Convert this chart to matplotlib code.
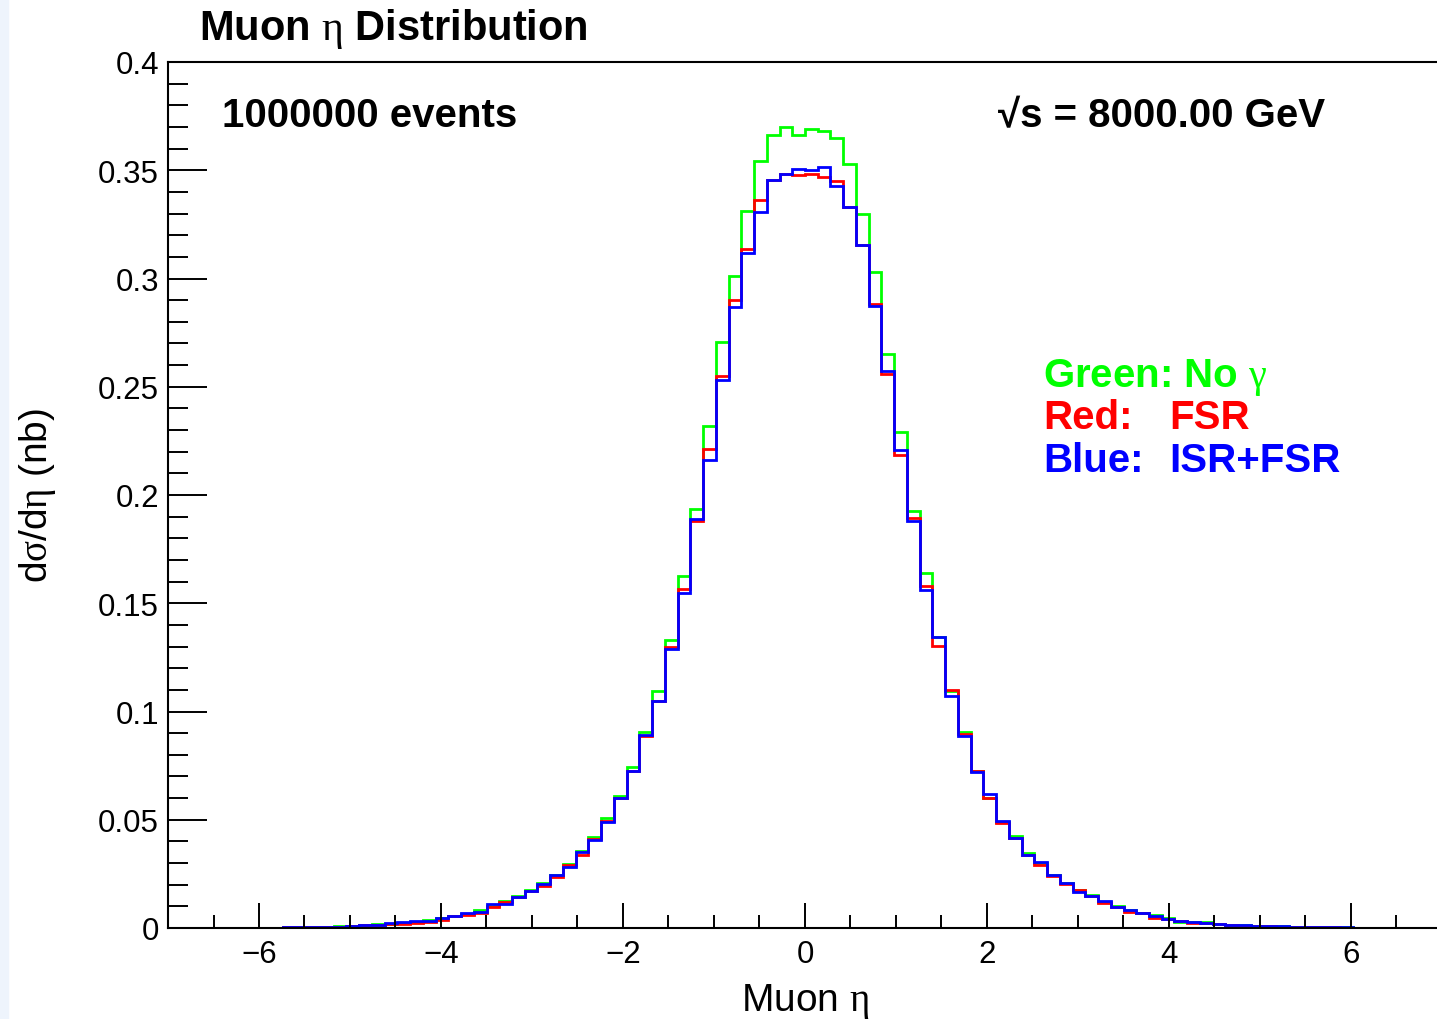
import numpy as np
import matplotlib
matplotlib.use("Agg")
import matplotlib.pyplot as plt
from matplotlib.patches import Rectangle
from matplotlib.ticker import MultipleLocator, FuncFormatter

plt.rcParams['font.family'] = ['Liberation Sans', 'DejaVu Sans']
plt.rcParams['mathtext.fontset'] = 'custom'
plt.rcParams['mathtext.rm'] = 'Liberation Serif'
plt.rcParams['mathtext.it'] = 'Liberation Serif'
plt.rcParams['mathtext.bf'] = 'Liberation Sans:bold'

# histogram binning: 100 bins from -7 to 7
eta_min, eta_max, n_bins = -7.0, 7.0, 100

# dsigma/deta per bin (nb)
green_nogamma = [
    0.0000, 0.0000, 0.0001, 0.0001, 0.0001, 0.0001, 0.0002, 0.0002, 0.0002, 0.0003,
    0.0003, 0.0004, 0.0005, 0.0007, 0.0009, 0.0012, 0.0018, 0.0019, 0.0025, 0.0028,
    0.0038, 0.0046, 0.0057, 0.0066, 0.0085, 0.0100, 0.0123, 0.0146, 0.0175, 0.0206,
    0.0247, 0.0295, 0.0355, 0.0419, 0.0507, 0.0611, 0.0743, 0.0904, 0.1095, 0.1332,
    0.1624, 0.1936, 0.2321, 0.2709, 0.3011, 0.3312, 0.3541, 0.3665, 0.3700, 0.3665,
    0.3689, 0.3681, 0.3651, 0.3527, 0.3296, 0.3030, 0.2652, 0.2293, 0.1925, 0.1639,
    0.1345, 0.1095, 0.0907, 0.0727, 0.0599, 0.0490, 0.0427, 0.0347, 0.0300, 0.0245,
    0.0208, 0.0175, 0.0152, 0.0122, 0.0103, 0.0083, 0.0070, 0.0062, 0.0045, 0.0030,
    0.0027, 0.0029, 0.0019, 0.0015, 0.0012, 0.0010, 0.0008, 0.0007, 0.0006, 0.0005,
    0.0004, 0.0003, 0.0003, 0.0002, 0.0002, 0.0001, 0.0001, 0.0001, 0.0000, 0.0000,
]
red_fsr = [
    0.0000, 0.0000, 0.0001, 0.0001, 0.0001, 0.0001, 0.0001, 0.0002, 0.0002, 0.0003,
    0.0003, 0.0004, 0.0005, 0.0006, 0.0010, 0.0012, 0.0015, 0.0017, 0.0018, 0.0022,
    0.0030, 0.0038, 0.0055, 0.0062, 0.0071, 0.0096, 0.0120, 0.0142, 0.0170, 0.0193,
    0.0234, 0.0293, 0.0337, 0.0410, 0.0496, 0.0602, 0.0727, 0.0886, 0.1050, 0.1300,
    0.1567, 0.1878, 0.2213, 0.2548, 0.2899, 0.3138, 0.3361, 0.3457, 0.3484, 0.3477,
    0.3484, 0.3469, 0.3449, 0.3330, 0.3156, 0.2880, 0.2560, 0.2187, 0.1895, 0.1580,
    0.1302, 0.1097, 0.0896, 0.0725, 0.0599, 0.0485, 0.0418, 0.0337, 0.0293, 0.0239,
    0.0205, 0.0177, 0.0146, 0.0114, 0.0098, 0.0075, 0.0068, 0.0045, 0.0042, 0.0032,
    0.0024, 0.0021, 0.0017, 0.0013, 0.0010, 0.0008, 0.0007, 0.0006, 0.0005, 0.0004,
    0.0003, 0.0003, 0.0002, 0.0002, 0.0001, 0.0001, 0.0001, 0.0001, 0.0000, 0.0000,
]
blue_isrfsr = [
    0.0000, 0.0000, 0.0001, 0.0001, 0.0001, 0.0001, 0.0002, 0.0002, 0.0002, 0.0003,
    0.0003, 0.0004, 0.0005, 0.0006, 0.0008, 0.0015, 0.0014, 0.0022, 0.0026, 0.0031,
    0.0031, 0.0046, 0.0057, 0.0068, 0.0072, 0.0111, 0.0111, 0.0142, 0.0173, 0.0203,
    0.0245, 0.0283, 0.0353, 0.0408, 0.0488, 0.0601, 0.0727, 0.0893, 0.1047, 0.1289,
    0.1547, 0.1890, 0.2163, 0.2532, 0.2868, 0.3119, 0.3307, 0.3453, 0.3481, 0.3507,
    0.3503, 0.3513, 0.3427, 0.3330, 0.3153, 0.2873, 0.2571, 0.2206, 0.1878, 0.1559,
    0.1343, 0.1073, 0.0889, 0.0720, 0.0619, 0.0496, 0.0416, 0.0337, 0.0304, 0.0245,
    0.0208, 0.0165, 0.0146, 0.0126, 0.0098, 0.0085, 0.0069, 0.0057, 0.0042, 0.0034,
    0.0026, 0.0022, 0.0018, 0.0015, 0.0012, 0.0011, 0.0008, 0.0007, 0.0006, 0.0005,
    0.0004, 0.0003, 0.0003, 0.0002, 0.0002, 0.0001, 0.0001, 0.0001, 0.0000, 0.0000,
]

W, H = 1437, 1020
fig = plt.figure(figsize=(W / 100, H / 100), dpi=100)

def fx(px):
    return px / W

def fy(py):
    return 1 - py / H

# light strip at the left edge of the canvas
fig.patches.append(Rectangle((0, 0), fx(8), 1, transform=fig.transFigure,
                             color='#eef4fc', zorder=0))

ax = fig.add_axes([fx(168), fy(929), fx(1442 - 168), (929 - 63) / H])

edges = np.linspace(eta_min, eta_max, n_bins + 1)
ax.stairs(green_nogamma, edges, color='#00ff00', lw=2)
ax.stairs(red_fsr, edges, color='#ff0000', lw=2)
ax.stairs(blue_isrfsr, edges, color='#0000ff', lw=2)

ax.set_xlim(eta_min, eta_max)
ax.set_ylim(0, 0.4)

for s in ax.spines.values():
    s.set_linewidth(1.5)

ax.xaxis.set_major_locator(MultipleLocator(2))
ax.xaxis.set_minor_locator(MultipleLocator(0.5))
ax.yaxis.set_major_locator(MultipleLocator(0.05))
ax.yaxis.set_minor_locator(MultipleLocator(0.01))
ax.yaxis.set_major_formatter(FuncFormatter(lambda v, p: '%g' % round(v, 3)))

ax.tick_params(axis='x', which='major', direction='in', length=18, width=1.4,
               labelsize=22.5, pad=8, top=False)
ax.tick_params(axis='x', which='minor', direction='in', length=9.5, width=1.4, top=False)
ax.tick_params(axis='y', which='major', direction='in', length=28, width=1.4,
               labelsize=22.5, pad=6.5, right=False)
ax.tick_params(axis='y', which='minor', direction='in', length=14.5, width=1.4, right=False)

# axis titles
fig.text(fx(805), fy(1011), r'Muon $\eta$', fontsize=28, ha='center', va='baseline')
fig.text(fx(58), fy(496), r'd$\sigma$/d$\eta$ (nb)', fontsize=28, rotation=90,
         ha='right', va='center')

# title and annotations
fig.text(fx(199), fy(40), r'Muon $\eta$ Distribution', fontsize=30,
         fontweight='bold', va='baseline')
fig.text(fx(222), fy(127), '1000000 events', fontsize=29, fontweight='bold',
         va='baseline')
fig.text(fx(998), fy(127), '\u221as = 8000.00 GeV', fontsize=29,
         fontweight='bold', va='baseline')

fig.text(fx(1043), fy(387), r'Green: No $\gamma$', fontsize=29, fontweight='bold',
         color='#00ff00', va='baseline')
fig.text(fx(1043), fy(429), 'Red:', fontsize=29, fontweight='bold',
         color='#ff0000', va='baseline')
fig.text(fx(1169), fy(429), 'FSR', fontsize=29, fontweight='bold',
         color='#ff0000', va='baseline')
fig.text(fx(1043), fy(472), 'Blue:', fontsize=29, fontweight='bold',
         color='#0000ff', va='baseline')
fig.text(fx(1169), fy(472), 'ISR+FSR', fontsize=29, fontweight='bold',
         color='#0000ff', va='baseline')

fig.savefig('out.png', dpi=100)
